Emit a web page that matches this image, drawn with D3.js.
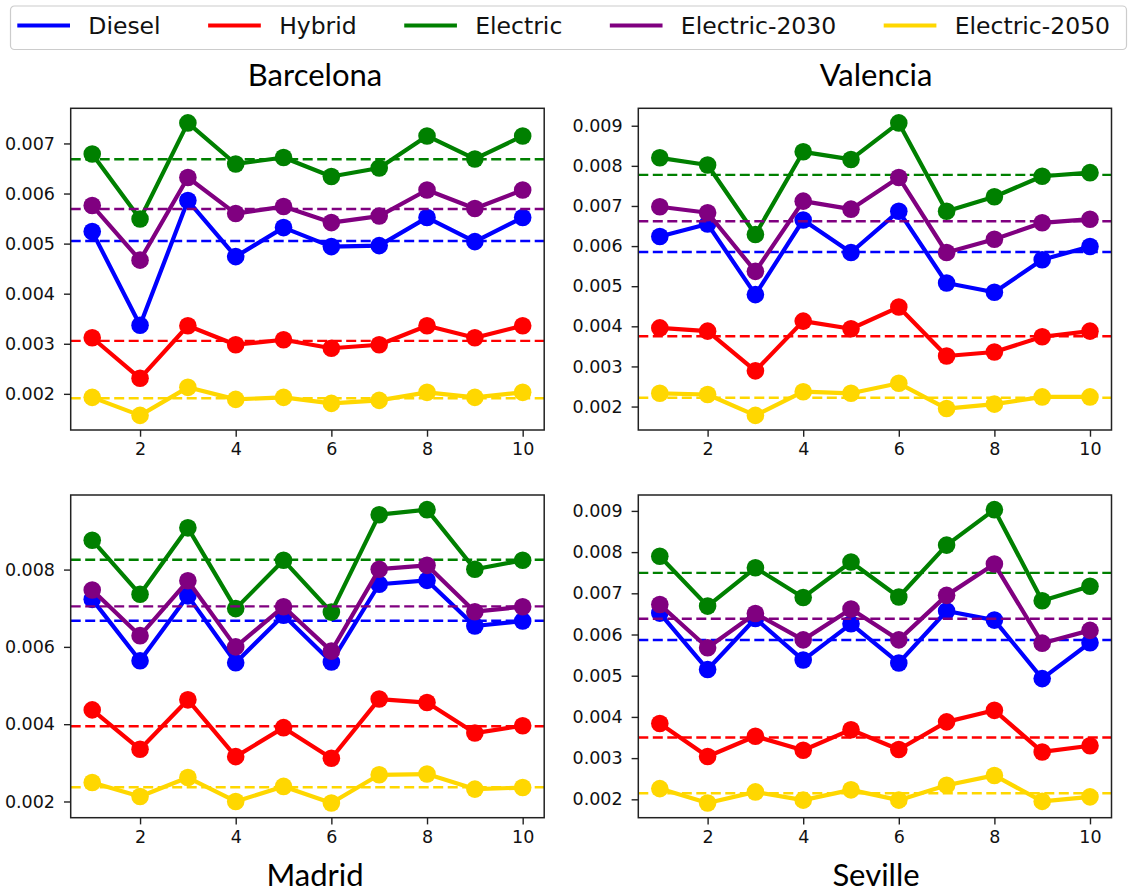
<!DOCTYPE html>
<html>
<head>
<meta charset="utf-8">
<script src="https://cdn.jsdelivr.net/npm/d3@7"></script>
<style>
  html, body { margin: 0; padding: 0; background: #ffffff; }
  svg { display: block; }
  .tick text { font-family: "DejaVu Sans", sans-serif; fill: #111; }
</style>
</head>
<body>
<svg id="chart" width="1129" height="895"></svg>
<script>
// Run index on the x axis
const runs = [1, 2, 3, 4, 5, 6, 7, 8, 9, 10];

// Powertrain scenarios, in drawing order
const seriesNames = ["Diesel", "Hybrid", "Electric", "Electric-2030", "Electric-2050"];
const seriesColors = ["#0000ff", "#ff0000", "#008000", "#800080", "#ffd700"];

// Barcelona
const barcelonaDiesel   = [0.00524, 0.00337, 0.00586, 0.00474, 0.00532, 0.00494, 0.00496, 0.00552, 0.00504, 0.00552];
const barcelonaHybrid   = [0.00312, 0.00231, 0.00336, 0.00298, 0.00308, 0.00291, 0.00298, 0.00336, 0.00312, 0.00336];
const barcelonaElectric = [0.00679, 0.00549, 0.00741, 0.00659, 0.00672, 0.00634, 0.00651, 0.00715, 0.00669, 0.00715];
const barcelona2030     = [0.00576, 0.00467, 0.00632, 0.00560, 0.00574, 0.00542, 0.00555, 0.00607, 0.00570, 0.00607];
const barcelona2050     = [0.00193, 0.00157, 0.00213, 0.00189, 0.00193, 0.00181, 0.00187, 0.00203, 0.00193, 0.00203];

// Valencia
const valenciaDiesel   = [0.00624, 0.00655, 0.00479, 0.00665, 0.00584, 0.00687, 0.00508, 0.00485, 0.00566, 0.00599];
const valenciaHybrid   = [0.00396, 0.00388, 0.00289, 0.00413, 0.00394, 0.00448, 0.00326, 0.00336, 0.00374, 0.00388];
const valenciaElectric = [0.00820, 0.00802, 0.00629, 0.00835, 0.00816, 0.00907, 0.00687, 0.00723, 0.00774, 0.00783];
const valencia2030     = [0.00698, 0.00683, 0.00537, 0.00712, 0.00692, 0.00771, 0.00584, 0.00617, 0.00658, 0.00667];
const valencia2050     = [0.00233, 0.00230, 0.00178, 0.00237, 0.00233, 0.00258, 0.00195, 0.00206, 0.00224, 0.00224];

// Madrid
const madridDiesel   = [0.00723, 0.00564, 0.00732, 0.00559, 0.00682, 0.00561, 0.00762, 0.00772, 0.00654, 0.00667];
const madridHybrid   = [0.00437, 0.00335, 0.00463, 0.00316, 0.00391, 0.00312, 0.00465, 0.00456, 0.00377, 0.00396];
const madridElectric = [0.00876, 0.00736, 0.00908, 0.00699, 0.00824, 0.00690, 0.00942, 0.00955, 0.00801, 0.00824];
const madrid2030     = [0.00747, 0.00629, 0.00771, 0.00600, 0.00704, 0.00589, 0.00801, 0.00811, 0.00691, 0.00704];
const madrid2050     = [0.00249, 0.00213, 0.00262, 0.00200, 0.00239, 0.00196, 0.00269, 0.00271, 0.00232, 0.00236];

// Seville
const sevilleDiesel   = [0.00652, 0.00515, 0.00639, 0.00538, 0.00626, 0.00531, 0.00657, 0.00635, 0.00493, 0.00580];
const sevilleHybrid   = [0.00384, 0.00304, 0.00353, 0.00319, 0.00369, 0.00321, 0.00388, 0.00416, 0.00315, 0.00330];
const sevilleElectric = [0.00790, 0.00669, 0.00762, 0.00690, 0.00776, 0.00691, 0.00817, 0.00903, 0.00682, 0.00717];
const seville2030     = [0.00673, 0.00568, 0.00651, 0.00587, 0.00662, 0.00587, 0.00695, 0.00771, 0.00579, 0.00610];
const seville2050     = [0.00226, 0.00191, 0.00218, 0.00198, 0.00223, 0.00198, 0.00234, 0.00258, 0.00195, 0.00206];

// Tick labels
const xTicks = [2, 4, 6, 8, 10];
const barcelonaTicks = [0.002, 0.003, 0.004, 0.005, 0.006, 0.007];
const valenciaTicks  = [0.002, 0.003, 0.004, 0.005, 0.006, 0.007, 0.008, 0.009];
const madridTicks    = [0.002, 0.004, 0.006, 0.008];
const sevilleTicks   = [0.002, 0.003, 0.004, 0.005, 0.006, 0.007, 0.008, 0.009];

const panels = [
  { title: "Barcelona", series: [barcelonaDiesel, barcelonaHybrid, barcelonaElectric, barcelona2030, barcelona2050],
    ticks: barcelonaTicks, left: 70.7, right: 544.2, top: 108.3, bottom: 430, titleX: 315, titleY: 86 },
  { title: "Valencia", series: [valenciaDiesel, valenciaHybrid, valenciaElectric, valencia2030, valencia2050],
    ticks: valenciaTicks, left: 638.3, right: 1111.5, top: 108.3, bottom: 430, titleX: 876, titleY: 86 },
  { title: "Madrid", series: [madridDiesel, madridHybrid, madridElectric, madrid2030, madrid2050],
    ticks: madridTicks, left: 70.7, right: 544.2, top: 495, bottom: 817.7, titleX: 315, titleY: 886 },
  { title: "Seville", series: [sevilleDiesel, sevilleHybrid, sevilleElectric, seville2030, seville2050],
    ticks: sevilleTicks, left: 638.3, right: 1111.5, top: 495, bottom: 817.7, titleX: 876, titleY: 886 }
];

const svg = d3.select("#chart");

panels.forEach((p, pi) => {
  const g = svg.append("g");

  const x = d3.scaleLinear()
    .domain([runs[0] - 0.45, runs[runs.length - 1] + 0.45])
    .range([p.left, p.right]);

  const all = p.series.flat();
  const [lo, hi] = d3.extent(all);
  const pad = (hi - lo) * 0.05;
  const y = d3.scaleLinear().domain([lo - pad, hi + pad]).range([p.bottom, p.top]);

  const clipId = "clip" + pi;
  g.append("clipPath").attr("id", clipId)
    .append("rect")
    .attr("x", p.left).attr("y", p.top)
    .attr("width", p.right - p.left).attr("height", p.bottom - p.top);

  const plot = g.append("g").attr("clip-path", `url(#${clipId})`);

  const line = d3.line().x((d, i) => x(runs[i])).y(d => y(d));

  p.series.forEach((vals, si) => {
    const color = seriesColors[si];
    plot.append("path")
      .datum(vals)
      .attr("d", line)
      .attr("fill", "none")
      .attr("stroke", color)
      .attr("stroke-width", 4.2)
      .attr("stroke-linejoin", "round")
      .attr("stroke-linecap", "round");
    plot.selectAll(null)
      .data(vals)
      .join("circle")
      .attr("cx", (d, i) => x(runs[i]))
      .attr("cy", d => y(d))
      .attr("r", 8.8)
      .attr("fill", color);
    // Mean across the runs
    const m = d3.mean(vals);
    plot.append("line")
      .attr("x1", p.left).attr("x2", p.right)
      .attr("y1", y(m)).attr("y2", y(m))
      .attr("stroke", color)
      .attr("stroke-width", 2.4)
      .attr("stroke-dasharray", "10,4.5");
  });

  // Axes
  const xAxis = d3.axisBottom(x).tickValues(xTicks).tickSize(6.7).tickPadding(6).tickFormat(d3.format("d"));
  const gx = g.append("g").attr("transform", `translate(0,${p.bottom})`).call(xAxis);
  const yAxis = d3.axisLeft(y).tickValues(p.ticks).tickSize(6.7).tickPadding(9).tickFormat(d3.format(".3f"));
  const gy = g.append("g").attr("transform", `translate(${p.left},0)`).call(yAxis);
  [gx, gy].forEach(a => {
    a.select(".domain").remove();
    a.selectAll(".tick line").attr("stroke", "#222").attr("stroke-width", 1.4);
    a.selectAll(".tick text").style("font-size", "17.5px");
  });

  // Frame
  g.append("rect")
    .attr("x", p.left).attr("y", p.top)
    .attr("width", p.right - p.left).attr("height", p.bottom - p.top)
    .attr("fill", "none")
    .attr("stroke", "#222")
    .attr("stroke-width", 1.5);

  // City name
  g.append("text")
    .attr("x", p.titleX).attr("y", p.titleY)
    .attr("text-anchor", "middle")
    .style("font-family", "Lato, 'Open Sans', sans-serif")
    .style("font-size", "31px")
    .style("fill", "#000")
    .text(p.title);
});

// Legend across the top
const legend = svg.append("g");
legend.append("rect")
  .attr("x", 10.5).attr("y", 6)
  .attr("width", 1116).attr("height", 43.5)
  .attr("rx", 4).attr("ry", 4)
  .attr("fill", "#fff")
  .attr("stroke", "#cccccc")
  .attr("stroke-width", 1.2);

let lx = 17.3;
const ly = 25.5;
seriesNames.forEach((name, i) => {
  legend.append("line")
    .attr("x1", lx).attr("x2", lx + 52.7)
    .attr("y1", ly).attr("y2", ly)
    .attr("stroke", seriesColors[i])
    .attr("stroke-width", 4);
  const t = legend.append("text")
    .attr("x", lx + 71)
    .attr("y", ly + 8.6)
    .style("font-family", "'DejaVu Sans', sans-serif")
    .style("font-size", "23.5px")
    .style("fill", "#111")
    .text(name);
  const w = t.node().getComputedTextLength();
  lx = lx + 71 + w + 47.5;
});
</script>
</body>
</html>
